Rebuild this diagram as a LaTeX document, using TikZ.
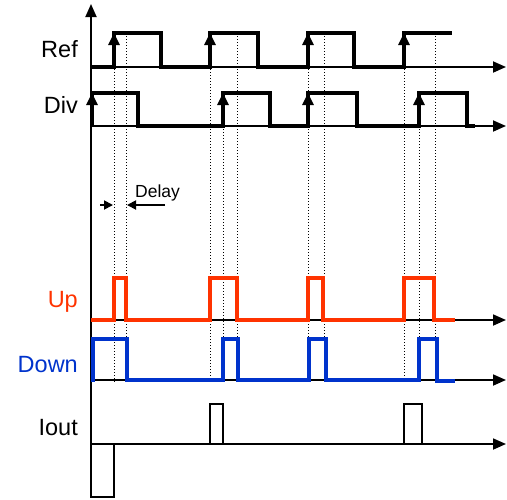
\documentclass[tikz,border=0pt]{standalone}
\usepackage{fontspec}
\setmainfont{Liberation Sans}
\usetikzlibrary{arrows.meta}
\definecolor{upred}{RGB}{255,51,0}
\definecolor{downblue}{RGB}{0,51,204}
\tikzset{
  axisline/.style={line width=1.8pt,-{Triangle[width=11pt,length=13pt]}},
  wave/.style={line width=3.4pt,line join=miter},
  iwave/.style={line width=2.6pt,line join=miter},
  edgearrow/.style={line width=3.4pt,-{Triangle[width=11pt,length=12pt]}},
  guide/.style={line width=1pt,dotted},
  lbl/.style={font=\fontsize{23.5}{23.5}\selectfont,anchor=base east,inner sep=0pt},
  delaytip/.style={line width=1.8pt,-{Triangle[width=9pt,length=9pt]}}
}
\begin{document}
\begin{tikzpicture}[x=1pt,y=-1pt]
\useasboundingbox (0,0) rectangle (507,499);
% labels
\node[lbl] (lref) at (78,57) {Ref};
\node[lbl] (ldiv) at (78,113) {Div};
\node[lbl,text=upred] (lup) at (78,307) {Up};
\node[lbl,text=downblue] (ldown) at (78,372) {Down};
\node[lbl] (liout) at (78,435) {Iout};
\node[font=\fontsize{17.5}{17.5}\selectfont,anchor=base west,inner sep=0pt] (ldelay) at (135,197) {Delay};
% axes
\coordinate (vb) at (91,444); \coordinate (vt) at (91,4);
\draw[axisline] (vb) -- (vt);
\foreach \y/\n in {67/ref,126/div,320/up,380/down,444/iout}{
  \coordinate (a\n0) at (91,\y); \coordinate (a\n1) at (506,\y);
  \draw[axisline] (a\n0) -- (a\n1);
}
% dotted guides
\foreach \x/\t in {114/33,126/33,210/33,223/93,237/33,308/33,324/33,404/33,419/93,435/33}{
  \coordinate (gt) at (\x,\t); \coordinate (gb) at (\x,383);
  \draw[guide] (gt) -- (gb);
}
% Ref waveform
\draw[wave] (91,67) -- (114,67) -- (114,33) -- (161,33) -- (161,67) -- (210,67) -- (210,33) -- (258,33) -- (258,67)
  -- (308,67) -- (308,33) -- (354,33) -- (354,67) -- (404,67) -- (404,33) -- (452,33);
\foreach \x in {114,210,308,404}{
  \coordinate (eb) at (\x,67); \coordinate (et) at (\x,33);
  \draw[edgearrow] (eb) -- (et);
}
% Div waveform
\draw[wave] (92,126) -- (92,93) -- (138,93) -- (138,126) -- (223,126) -- (223,93) -- (270,93) -- (270,126)
  -- (308,126) -- (308,93) -- (357,93) -- (357,126) -- (419,126) -- (419,93) -- (467,93) -- (467,126) -- (475,126);
\foreach \x in {92,223,308,419}{
  \coordinate (eb) at (\x,126); \coordinate (et) at (\x,93);
  \draw[edgearrow] (eb) -- (et);
}
% Delay arrows
\coordinate (d1a) at (100,205); \coordinate (d1b) at (113,205);
\coordinate (d2a) at (165,205); \coordinate (d2b) at (127,205);
\draw[delaytip] (d1a) -- (d1b);
\draw[delaytip] (d2a) -- (d2b);
% Up waveform
\draw[wave,upred] (91,320) -- (114,320) -- (114,278) -- (126,278) -- (126,320) -- (210,320) -- (210,278) -- (237,278) -- (237,320)
  -- (308,320) -- (308,278) -- (323,278) -- (323,320) -- (404,320) -- (404,278) -- (434,278) -- (434,320) -- (455,320);
% Down waveform
\draw[wave,downblue] (91,380) -- (93,380) -- (93,339) -- (127,339) -- (127,380) -- (223,380) -- (223,339) -- (238,339) -- (238,380)
  -- (309,380) -- (309,339) -- (326,339) -- (326,380) -- (419,380) -- (419,339) -- (437,339) -- (437,381) -- (455,381);
% Iout waveform
\draw[iwave] (91,444) -- (91,497) -- (114,497) -- (114,444) -- (210,444) -- (210,404) -- (223,404) -- (223,444)
  -- (404,444) -- (404,404) -- (422,404) -- (422,444) -- (462,444);
\end{tikzpicture}
\end{document}
